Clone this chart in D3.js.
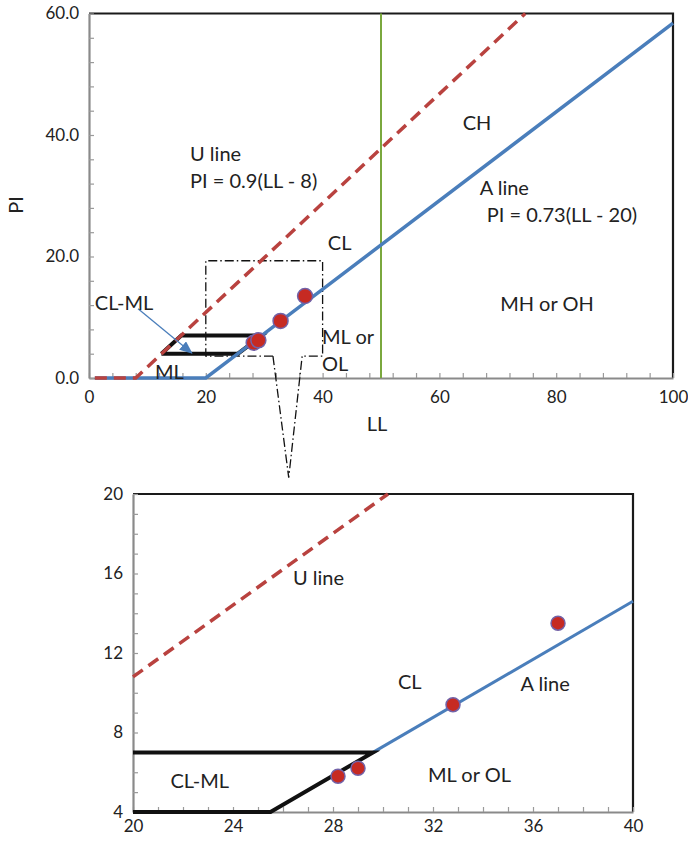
<!DOCTYPE html>
<html>
<head>
<meta charset="utf-8">
<script src="https://cdn.jsdelivr.net/npm/d3@7"></script>
<style>
  body { margin: 0; background: #fff; }
  text { font-family: Lato, "Open Sans", sans-serif; fill: #222; }
</style>
</head>
<body>
<div id="wrapper"></div>
<script>
// measured soil samples (LL, PI)
const sampleLL = [28.2, 29.0, 32.8, 37.0];
const samplePI = [5.8, 6.2, 9.4, 13.5];

// chart lines, [LL, PI]
const aLine = [[1, 0], [20, 0], [100, 58.4]];
const uLine = [[1, 0], [8, 0], [74.7, 60]];
const llFifty = [[50, 0], [50, 60]];
const clMlZone = [[12.4, 4], [25.5, 4], [29.6, 7], [15.8, 7], [12.4, 4]];
const zoomFrame = [[31.5, 3.6], [20, 3.6], [20, 19.3], [40, 19.3], [40, 3.6], [36.5, 3.6]];
const zoomFunnel = [[31.5, 3.6], [34.2, -16.4], [36.5, 3.6]];
const clMlArrow = [[8.4, 11.4], [17.6, 4.1]];

const aLineZoom = [[29.6, 7], [40, 14.6]];
const uLineZoom = [[20, 10.8], [30.2, 20]];
const clMlZoom = [[20, 7], [29.6, 7], [25.5, 4], [20, 4]];

// ticks
const upperXTicks = d3.range(0, 101, 4);
const upperYTicks = d3.range(0, 61, 4);
const upperXLabels = [0, 20, 40, 60, 80, 100];
const upperYLabels = [0, 20, 40, 60];
const zoomXTicks = d3.range(20, 41, 1);
const zoomYTicks = d3.range(4, 21, 1);
const zoomXLabels = [20, 24, 28, 32, 36, 40];
const zoomYLabels = [4, 8, 12, 16, 20];

// annotations, [LL, PI, text]
const upperNotes = [
  [17.3, 37.0, "U line"],
  [17.3, 32.6, "PI = 0.9(LL - 8)"],
  [64.0, 42.1, "CH"],
  [66.9, 31.4, "A line"],
  [68.1, 27.0, "PI = 0.73(LL - 20)"],
  [40.9, 22.4, "CL"],
  [1.0, 12.5, "CL-ML"],
  [11.3, 1.1, "ML"],
  [39.9, 6.9, "ML or"],
  [39.9, 2.5, "OL"],
  [70.4, 12.3, "MH or OH"],
];
const zoomNotes = [
  [26.4, 15.8, "U line"],
  [30.6, 10.6, "CL"],
  [35.5, 10.5, "A line"],
  [31.8, 5.9, "ML or OL"],
  [21.5, 5.6, "CL-ML"],
];

const width = 688;
const height = 841;

const svg = d3.select("#wrapper")
  .append("svg")
  .attr("width", width)
  .attr("height", height);

svg.append("defs").append("marker")
  .attr("id", "arrowhead")
  .attr("markerUnits", "userSpaceOnUse")
  .attr("viewBox", "0 0 12 10")
  .attr("refX", 11)
  .attr("refY", 5)
  .attr("markerWidth", 13)
  .attr("markerHeight", 11)
  .attr("orient", "auto")
  .append("path")
  .attr("d", "M0,0 L12,5 L0,10 Z")
  .attr("fill", "#4a7ebb");

const samples = sampleLL.map((ll, i) => ({ ll, pi: samplePI[i] }));

function drawPlot(opts) {
  const { x, y } = opts;
  const g = svg.append("g");
  const line = d3.line().x(d => x(d[0])).y(d => y(d[1]));

  const [x0] = x.range();
  const [y0] = y.range();
  const [dx0, dx1] = x.domain();
  const [dy0, dy1] = y.domain();

  // frame: top and right edges in black
  g.append("path")
    .attr("d", line([[dx0, dy1], [dx1, dy1], [dx1, dy0]]))
    .attr("fill", "none")
    .attr("stroke", "#1a1a1a")
    .attr("stroke-width", 2.2);

  const xAxis = d3.axisBottom(x)
    .tickValues(opts.xTicks)
    .tickSize(-5)
    .tickSizeOuter(0)
    .tickPadding(opts.xPad)
    .tickFormat(d => opts.xLabels.includes(d) ? d : "");
  const yAxis = d3.axisLeft(y)
    .tickValues(opts.yTicks)
    .tickSize(-5)
    .tickSizeOuter(0)
    .tickPadding(10)
    .tickFormat(d => opts.yLabels.includes(d) ? opts.yFmt(d) : "");

  const gx = g.append("g")
    .attr("transform", `translate(0, ${y0})`)
    .call(xAxis);
  const gy = g.append("g")
    .attr("transform", `translate(${x0}, 0)`)
    .call(yAxis);

  [gx, gy].forEach(a => {
    a.select(".domain").attr("stroke", "#8a8a8a").attr("stroke-width", 2.2);
    a.selectAll(".tick line").attr("stroke", "#9a9a9a").attr("stroke-width", 1.2);
    a.selectAll(".tick text")
      .attr("fill", "#222")
      .style("font-family", "Lato, sans-serif")
      .style("font-size", "17px");
  });

  return { g, line };
}

// ---------- upper chart ----------
const xUpper = d3.scaleLinear().domain([0, 100]).range([89, 673]);
const yUpper = d3.scaleLinear().domain([0, 60]).range([378, 13.5]);

const upper = drawPlot({
  x: xUpper, y: yUpper,
  xTicks: upperXTicks, yTicks: upperYTicks,
  xLabels: upperXLabels, yLabels: upperYLabels,
  yFmt: d => d.toFixed(1),
  xPad: 13,
});

upper.g.append("path")
  .attr("d", upper.line(llFifty))
  .attr("fill", "none")
  .attr("stroke", "#7aa83e")
  .attr("stroke-width", 2);

upper.g.append("path")
  .attr("d", upper.line(zoomFrame))
  .attr("fill", "none")
  .attr("stroke", "#111")
  .attr("stroke-width", 1.3)
  .attr("stroke-dasharray", "9,3,1.5,3");

upper.g.append("path")
  .attr("d", upper.line(zoomFunnel))
  .attr("fill", "none")
  .attr("stroke", "#111")
  .attr("stroke-width", 1.3)
  .attr("stroke-dasharray", "9,3,1.5,3");

upper.g.append("path")
  .attr("d", upper.line(clMlZone))
  .attr("fill", "none")
  .attr("stroke", "#111")
  .attr("stroke-width", 4);

upper.g.append("path")
  .attr("d", upper.line(aLine))
  .attr("fill", "none")
  .attr("stroke", "#4a7ebb")
  .attr("stroke-width", 3.5);

upper.g.append("path")
  .attr("d", upper.line(uLine))
  .attr("fill", "none")
  .attr("stroke", "#b9423f")
  .attr("stroke-width", 3.5)
  .attr("stroke-dasharray", "12,7");

upper.g.append("path")
  .attr("d", upper.line(clMlArrow))
  .attr("fill", "none")
  .attr("stroke", "#4a7ebb")
  .attr("stroke-width", 1.3)
  .attr("marker-end", "url(#arrowhead)");

upper.g.selectAll("circle.sample")
  .data(samples)
  .join("circle")
  .attr("class", "sample")
  .attr("cx", d => xUpper(d.ll))
  .attr("cy", d => yUpper(d.pi))
  .attr("r", 7.5)
  .attr("fill", "#c62a22")
  .attr("stroke", "#7262a8")
  .attr("stroke-width", 1.5);

upper.g.selectAll("text.note")
  .data(upperNotes)
  .join("text")
  .attr("class", "note")
  .attr("x", d => xUpper(d[0]))
  .attr("y", d => yUpper(d[1]))
  .attr("dominant-baseline", "central")
  .style("font-size", "20px")
  .text(d => d[2]);

svg.append("text")
  .attr("x", 377)
  .attr("y", 423)
  .attr("text-anchor", "middle")
  .attr("dominant-baseline", "central")
  .style("font-size", "20px")
  .text("LL");

svg.append("text")
  .attr("transform", "translate(15, 205) rotate(-90)")
  .attr("text-anchor", "middle")
  .attr("dominant-baseline", "central")
  .style("font-size", "20px")
  .text("PI");

// ---------- lower (zoomed) chart ----------
const xZoom = d3.scaleLinear().domain([20, 40]).range([133, 633]);
const yZoom = d3.scaleLinear().domain([4, 20]).range([812, 494]);

const lower = drawPlot({
  x: xZoom, y: yZoom,
  xTicks: zoomXTicks, yTicks: zoomYTicks,
  xLabels: zoomXLabels, yLabels: zoomYLabels,
  yFmt: d => d,
  xPad: 8,
});

lower.g.append("path")
  .attr("d", lower.line(aLineZoom))
  .attr("fill", "none")
  .attr("stroke", "#4a7ebb")
  .attr("stroke-width", 3);

lower.g.append("path")
  .attr("d", lower.line(clMlZoom))
  .attr("fill", "none")
  .attr("stroke", "#111")
  .attr("stroke-width", 4);

lower.g.append("path")
  .attr("d", lower.line(uLineZoom))
  .attr("fill", "none")
  .attr("stroke", "#b9423f")
  .attr("stroke-width", 3.5)
  .attr("stroke-dasharray", "12,7");

lower.g.selectAll("circle.sample")
  .data(samples)
  .join("circle")
  .attr("class", "sample")
  .attr("cx", d => xZoom(d.ll))
  .attr("cy", d => yZoom(d.pi))
  .attr("r", 7)
  .attr("fill", "#c62a22")
  .attr("stroke", "#7262a8")
  .attr("stroke-width", 1.5);

lower.g.selectAll("text.note")
  .data(zoomNotes)
  .join("text")
  .attr("class", "note")
  .attr("x", d => xZoom(d[0]))
  .attr("y", d => yZoom(d[1]))
  .attr("dominant-baseline", "central")
  .style("font-size", "20px")
  .text(d => d[2]);
</script>
</body>
</html>
